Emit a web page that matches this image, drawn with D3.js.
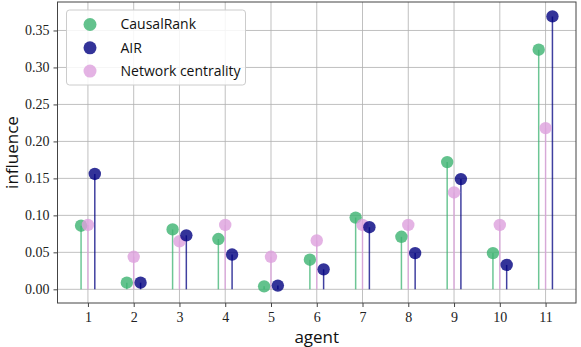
<!DOCTYPE html>
<html>
<head>
<meta charset="utf-8">
<script src="https://cdn.jsdelivr.net/npm/d3@7"></script>
<style>
    body { margin: 0; background: #fff; }
    .grid line { stroke: #b0b0b0; stroke-width: 0.8; }
    .tick text { font-family: "Liberation Serif", serif; font-size: 14px; fill: #222; }
    .axis path, .axis line { stroke: #444; }
    .label { font-family: "Open Sans", sans-serif; font-size: 17px; fill: #111; }
    .legend text { font-family: "Open Sans", sans-serif; font-size: 14px; fill: #111; }
</style>
</head>
<body>
<div class="graphContainer"></div>
<script>
// Data
var agents = [1, 2, 3, 4, 5, 6, 7, 8, 9, 10, 11];
var causalRank = [0.086, 0.009, 0.081, 0.068, 0.004, 0.040, 0.097, 0.071, 0.172, 0.049, 0.324];
var air = [0.156, 0.009, 0.073, 0.047, 0.005, 0.027, 0.084, 0.049, 0.149, 0.033, 0.369];
var networkCentrality = [0.087, 0.044, 0.065, 0.087, 0.044, 0.066, 0.087, 0.087, 0.131, 0.087, 0.218];
var yTicks = [0.00, 0.05, 0.10, 0.15, 0.20, 0.25, 0.30, 0.35];

var series = [
    {name: "CausalRank", values: causalRank, offset: -0.15, color: "#3cb371"},
    {name: "AIR", values: air, offset: 0.15, color: "#000080"},
    {name: "Network centrality", values: networkCentrality, offset: 0, color: "#dda0dd"}
];
// drawing order: green, pink, blue on top
var drawOrder = [series[0], series[2], series[1]];

// Set the dimensions of the canvas / graph
var margin = {top: 2, right: 5, bottom: 44, left: 57.5},
    width = 581 - margin.left - margin.right,
    height = 347 - margin.top - margin.bottom;

var x = d3.scaleLinear().domain([0.335, 11.665]).range([0, width]);
var y = d3.scaleLinear().domain([-0.0185, 0.3885]).range([height, 0]);

var svg = d3.select(".graphContainer")
    .append("svg")
        .attr("width", 581)
        .attr("height", 347)
    .append("g")
        .attr("transform", "translate(" + margin.left + "," + margin.top + ")");

// Grid
svg.append("g")
    .attr("class", "grid")
    .selectAll("line.gx")
    .data(agents).enter().append("line")
        .attr("x1", function(d) { return x(d); })
        .attr("x2", function(d) { return x(d); })
        .attr("y1", 0).attr("y2", height);
svg.append("g")
    .attr("class", "grid")
    .selectAll("line.gy")
    .data(yTicks).enter().append("line")
        .attr("y1", function(d) { return y(d); })
        .attr("y2", function(d) { return y(d); })
        .attr("x1", 0).attr("x2", width);

// Stems and markers
drawOrder.forEach(function(s) {
    var g = svg.append("g");
    g.selectAll("line")
        .data(agents).enter().append("line")
            .attr("x1", function(d) { return x(d + s.offset); })
            .attr("x2", function(d) { return x(d + s.offset); })
            .attr("y1", y(0))
            .attr("y2", function(d, i) { return y(s.values[i]); })
            .attr("stroke", s.color)
            .attr("stroke-opacity", 0.75)
            .attr("stroke-width", 1.5);
});
drawOrder.forEach(function(s) {
    svg.append("g").selectAll("circle")
        .data(agents).enter().append("circle")
            .attr("cx", function(d) { return x(d + s.offset); })
            .attr("cy", function(d, i) { return y(s.values[i]); })
            .attr("r", 6.2)
            .attr("fill", s.color)
            .attr("fill-opacity", 0.8);
});

// Axes box
svg.append("rect")
    .attr("width", width).attr("height", height)
    .attr("fill", "none").attr("stroke", "#444").attr("stroke-width", 1);

svg.append("g")
    .attr("class", "x axis")
    .attr("transform", "translate(0," + height + ")")
    .call(d3.axisBottom(x).tickValues(agents).tickSize(4).tickPadding(5).tickSizeOuter(0));

svg.append("g")
    .attr("class", "y axis")
    .call(d3.axisLeft(y).tickValues(yTicks).tickSize(4).tickPadding(4).tickSizeOuter(0)
        .tickFormat(d3.format(".2f")));

svg.selectAll(".axis .domain").remove();

// Axis labels
svg.append("text")
    .attr("class", "label")
    .attr("x", width / 2).attr("y", height + 40)
    .attr("text-anchor", "middle")
    .text("agent");
svg.append("text")
    .attr("class", "label")
    .attr("transform", "translate(-40," + (height / 2) + ") rotate(-90)")
    .attr("text-anchor", "middle")
    .text("influence");

// Legend
var legend = svg.append("g")
    .attr("class", "legend")
    .attr("transform", "translate(" + (66.5 - margin.left) + "," + (10 - margin.top) + ")");
legend.append("rect")
    .attr("width", 179).attr("height", 75).attr("rx", 3)
    .attr("fill", "#fff").attr("fill-opacity", 0.85)
    .attr("stroke", "#ccc");
series.forEach(function(s, i) {
    legend.append("circle")
        .attr("cx", 23.5).attr("cy", 14.5 + i * 23.3)
        .attr("r", 6.5).attr("fill", s.color).attr("fill-opacity", 0.8);
    legend.append("text")
        .attr("x", 54).attr("y", 14.5 + i * 23.3)
        .attr("dy", "0.35em")
        .text(s.name);
});
</script>
</body>
</html>
